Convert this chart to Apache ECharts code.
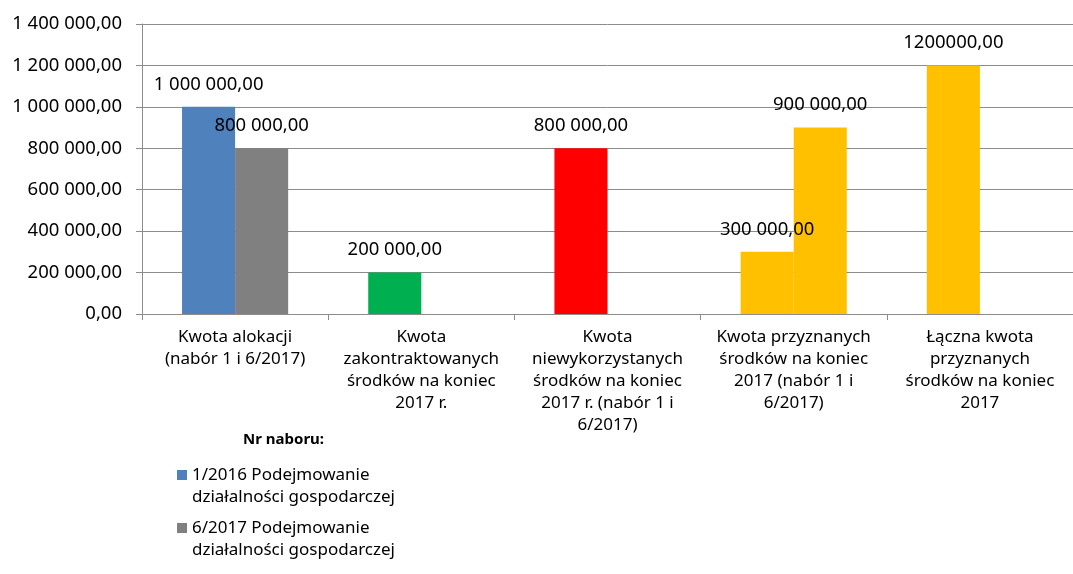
<!DOCTYPE html>
<html>
<head>
<meta charset="utf-8">
<script src="https://cdn.jsdelivr.net/npm/echarts@6/dist/echarts.min.js"></script>
<style>
  html, body { margin: 0; padding: 0; background: #fff; }
  #chart { width: 1073px; height: 574px; }
</style>
</head>
<body>
<div id="chart"></div>
<script>
const categories = [
  'Kwota alokacji\n(nabór 1 i 6/2017)',
  'Kwota\nzakontraktowanych\nśrodków na koniec\n2017 r.',
  'Kwota\nniewykorzystanych\nśrodków na koniec\n2017 r. (nabór 1 i\n6/2017)',
  'Kwota przyznanych\nśrodków na koniec\n2017 (nabór 1 i\n6/2017)',
  'Łączna kwota\nprzyznanych\nśrodków na koniec\n2017'
]
const seriesNames = [
  '1/2016 Podejmowanie\ndziałalności gospodarczej',
  '6/2017 Podejmowanie\ndziałalności gospodarczej'
]
const nabor1 = [1000000, 200000, 800000, 300000, 1200000]
const nabor6 = [800000, null, null, 900000, null]
const nabor1Colors = ['#4f81bd', '#00b050', '#ff0000', '#ffc000', '#ffc000']
const nabor6Colors = ['#808080', null, null, '#ffc000', null]
const yTicks = { min: 0, max: 1400000, interval: 200000 }

const font = 'Noto Sans'
const fs = 17
const numFs = 18.5

function fmt(v) {
  const parts = v.toFixed(2).split('.')
  return parts[0].replace(/\B(?=(\d{3})+(?!\d))/g, ' ') + ',' + parts[1]
}

function buildData(values, colors) {
  return values.map((v, i) => {
    if (v === null) return '-'
    const item = { value: v, itemStyle: { color: colors[i] } }
    // last label in the source has no thousand separators
    if (i === 4) item.label = { formatter: () => v.toFixed(2).replace('.', ',') }
    return item
  })
}

const barLabel = {
  show: true,
  position: 'top',
  distance: 13,
  fontFamily: font,
  fontSize: numFs,
  color: '#000',
  formatter: p => fmt(p.value)
}

const chart = echarts.init(document.getElementById('chart'))
chart.setOption({
  backgroundColor: '#fff',
  animation: false,
  textStyle: { fontFamily: font, color: '#000' },
  title: {
    text: 'Nr naboru:',
    left: 238,
    top: 427,
    textStyle: { fontFamily: font, fontSize: 15, fontWeight: 'bold', color: '#000' }
  },
  legend: {
    orient: 'vertical',
    left: 172,
    top: 437,
    icon: 'rect',
    itemWidth: 10,
    itemHeight: 10,
    itemGap: -13,
    data: seriesNames,
    // empty first line keeps the marker level with the first text line
    formatter: name => ' \n' + name,
    textStyle: {
      fontFamily: font,
      fontSize: fs,
      color: '#000',
      lineHeight: 22
    }
  },
  grid: {
    left: 142,
    right: 0,
    top: 24,
    bottom: 260
  },
  xAxis: {
    type: 'category',
    data: categories,
    axisLine: { lineStyle: { color: '#8c8c8c' } },
    axisTick: { show: true, length: 6, lineStyle: { color: '#8c8c8c' } },
    axisLabel: {
      interval: 0,
      fontFamily: font,
      fontSize: fs,
      lineHeight: 22,
      color: '#000',
      margin: 12
    }
  },
  yAxis: {
    type: 'value',
    min: yTicks.min,
    max: yTicks.max,
    interval: yTicks.interval,
    axisLine: { show: true, lineStyle: { color: '#8c8c8c' } },
    axisTick: { show: true, length: 6, lineStyle: { color: '#8c8c8c' } },
    splitLine: { lineStyle: { color: '#8c8c8c' } },
    axisLabel: {
      fontFamily: font,
      fontSize: numFs,
      color: '#000',
      margin: 20,
      formatter: fmt
    }
  },
  series: [
    {
      name: seriesNames[0],
      type: 'bar',
      itemStyle: { color: nabor1Colors[0] },
      barGap: '0%',
      barCategoryGap: '43%',
      label: barLabel,
      data: buildData(nabor1, nabor1Colors)
    },
    {
      name: seriesNames[1],
      type: 'bar',
      itemStyle: { color: nabor6Colors[0] },
      barGap: '0%',
      barCategoryGap: '43%',
      label: barLabel,
      data: buildData(nabor6, nabor6Colors)
    }
  ]
})
</script>
</body>
</html>
